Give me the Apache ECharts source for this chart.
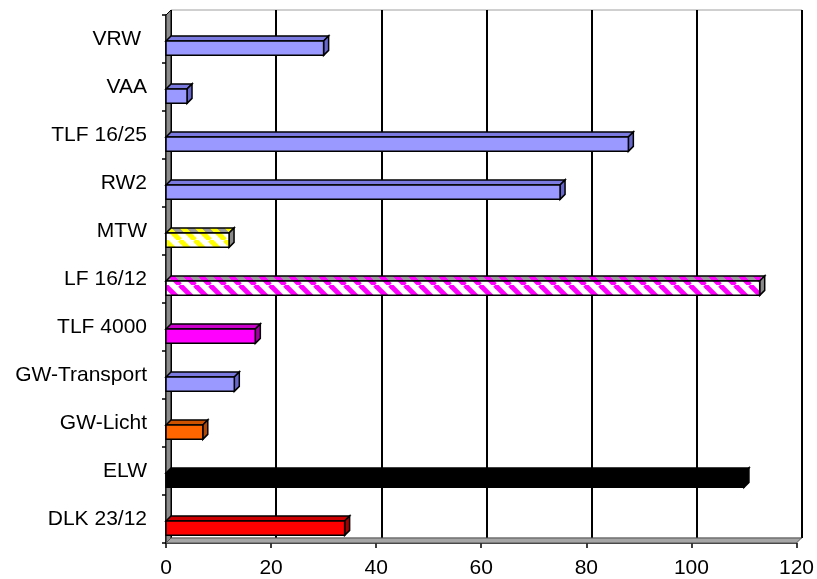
<!DOCTYPE html>
<html><head><meta charset="utf-8">
<script src="https://cdn.jsdelivr.net/npm/echarts@6/dist/echarts.min.js"></script>
<style>html,body{margin:0;padding:0;background:#fff}#c{width:817px;height:579px}</style>
</head><body><div id="c"></div>
<script>
// ---- data (bottom to top) ----
const categories = ['DLK 23/12','ELW','GW-Licht','GW-Transport','TLF 4000','LF 16/12','MTW','RW2','TLF 16/25','VAA','VRW '];
const values = [34, 110, 7, 13, 17, 113, 12, 75, 88, 4, 30];
const xTicks = [0, 20, 40, 60, 80, 100, 120];

// ---- styling ----
const barStyles = [
  {front:'#FF0000', top:'#CC0000', side:'#A00000'},
  {front:'#000000', top:'#000000', side:'#000000'},
  {front:'#FF6600', top:'#CC5200', side:'#B34700'},
  {front:'#9999FF', top:'#7A7AE0', side:'#6666CC'},
  {front:'#FF00FF', top:'#CC00CC', side:'#A000A0'},
  {stripe:'#FF00FF'},
  {stripe:'#FFFF00'},
  {front:'#9999FF', top:'#7A7AE0', side:'#6666CC'},
  {front:'#9999FF', top:'#7A7AE0', side:'#6666CC'},
  {front:'#9999FF', top:'#7A7AE0', side:'#6666CC'},
  {front:'#9999FF', top:'#7A7AE0', side:'#6666CC'}
];
function stripePattern(bg, fg){
  const s = 15, cv = document.createElement('canvas');
  cv.width = s; cv.height = s;
  const g = cv.getContext('2d');
  g.fillStyle = bg; g.fillRect(0,0,s,s);
  g.strokeStyle = fg; g.lineWidth = 5;
  for (const o of [-s, 0, s]) { g.beginPath(); g.moveTo(o,0); g.lineTo(o+s,s); g.stroke(); }
  return {image: cv, repeat: 'repeat'};
}
function faceFill(st, face){
  if (st.stripe) {
    if (face==='front') return stripePattern('#FFFFFF', st.stripe);
    if (face==='top') return stripePattern('#9A9A9A', st.stripe);
    return '#8A8A8A';
  }
  return st[face];
}
const DX = 5, DY = 5;

const chart = echarts.init(document.getElementById('c'), null, {renderer:'canvas'});
const font = 'Liberation Sans, Arial, sans-serif';
chart.setOption({
  animation: false,
  grid: [
    {left:166, right:20, top:15, bottom:36},
    {left:171, right:15, top:10, bottom:41, show:true, borderColor:'#A0A0A0', borderWidth:1, z:0}
  ],
  xAxis: [
    {type:'value', gridIndex:0, min:xTicks[0], max:xTicks[xTicks.length-1], interval:20,
     splitLine:{show:false},
     axisLine:{show:true, lineStyle:{color:'#000', width:1.5}},
     axisTick:{show:true, length:5, lineStyle:{color:'#000', width:1.5}},
     axisLabel:{fontSize:21, color:'#000', fontFamily:font, margin:15}},
    {type:'value', gridIndex:1, min:xTicks[0], max:xTicks[xTicks.length-1], interval:20,
     axisLine:{show:false}, axisTick:{show:false}, axisLabel:{show:false},
     splitLine:{show:true, lineStyle:{color:'#000', width:2}}}
  ],
  yAxis: [
    {type:'category', gridIndex:0, data:categories,
     axisLine:{show:true, lineStyle:{color:'#000', width:1.5}},
     axisTick:{show:true, length:4, lineStyle:{color:'#000', width:1.5}},
     axisLabel:{fontSize:21, color:'#000', fontFamily:font, margin:19}},
    {type:'category', gridIndex:1, data:categories, show:false}
  ],
  series: [
    {type:'custom', xAxisIndex:0, yAxisIndex:0, silent:true, z:1,
     data:[[0,0]],
     renderItem:function(params, api){
       const cs = params.coordSys;
       const x=cs.x, y=cs.y, w=cs.width, h=cs.height;
       return {type:'group', children:[
         {type:'polygon', shape:{points:[[x,y],[x+DX,y-DY],[x+DX,y+h-DY],[x,y+h]]},
          style:{fill:'#8C8C8C', stroke:'#000', lineWidth:1}},
         {type:'polygon', shape:{points:[[x,y+h],[x+DX,y+h-DY],[x+w+DX,y+h-DY],[x+w,y+h]]},
          style:{fill:'#A6A6A6', stroke:'#555', lineWidth:1}}
       ]};
     }},
    {type:'custom', xAxisIndex:0, yAxisIndex:0, z:3,
     data: values.map((v,i)=>[v,i]),
     renderItem:function(params, api){
       const v = api.value(0), c = api.value(1);
       const p0 = api.coord([0,c]), p1 = api.coord([v,c]);
       const band = api.size([0,1])[1];
       const h = band*0.3, off = band*0.19;
       const yT = p0[1] + off - h/2;
       const x0 = p0[0], x1 = p1[0];
       const st = barStyles[c];
       const stroke = '#000', lw = 1.5;
       return {type:'group', children:[
         {type:'polygon', shape:{points:[[x0,yT],[x0+DX,yT-DY],[x1+DX,yT-DY],[x1,yT]]},
          style:{fill:faceFill(st,'top'), stroke:stroke, lineWidth:lw}},
         {type:'polygon', shape:{points:[[x1,yT],[x1+DX,yT-DY],[x1+DX,yT+h-DY],[x1,yT+h]]},
          style:{fill:faceFill(st,'side'), stroke:stroke, lineWidth:lw}},
         {type:'rect', shape:{x:x0, y:yT, width:x1-x0, height:h},
          style:{fill:faceFill(st,'front'), stroke:stroke, lineWidth:lw}}
       ]};
     }}
  ]
});
</script>
</body></html>
